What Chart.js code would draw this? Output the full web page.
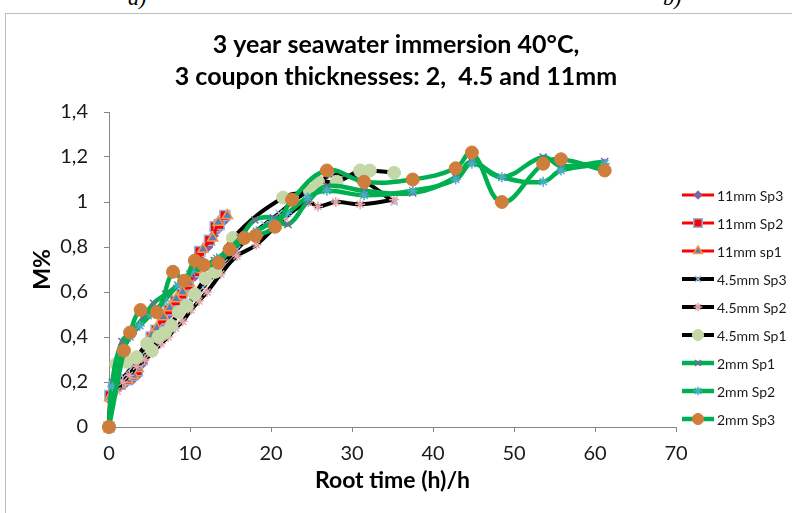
<!DOCTYPE html>
<html>
<head>
<meta charset="utf-8">
<script src="https://cdn.jsdelivr.net/npm/chart.js@4.4.1/dist/chart.umd.min.js"></script>
<style>
  html, body { margin: 0; padding: 0; background: #fff; }
  #wrap { position: relative; width: 792px; height: 513px; overflow: hidden; }
  #frame { position: absolute; left: 5px; top: 13px; width: 820px; height: 540px; border: 1px solid #bdbdbd; }
  .panel { position: absolute; top: -15px; font: italic 22px "Liberation Serif", serif; color: #000; }
  canvas { position: absolute; left: 0; top: 0; }
</style>
</head>
<body>
<div id="wrap">
  <span class="panel" style="left:128px">a)</span>
  <span class="panel" style="left:663px">b)</span>
  <div id="frame"></div>
  <canvas id="chart" width="792" height="513"></canvas>
</div>
<script>
// root time (h)/h and M% per specimen
const x11sp3 = [0, 0.1, 0.6, 1.4, 2.2, 2.9, 3.5, 4.1, 4.7, 5.2, 5.8, 6.6, 7.4, 8.2, 9.0, 9.8, 10.6, 11.3, 12.2, 12.9, 13.5, 14.3];
const y11sp3 = [0, 0.12, 0.16, 0.18, 0.20, 0.21, 0.23, 0.28, 0.33, 0.37, 0.41, 0.46, 0.50, 0.54, 0.58, 0.62, 0.67, 0.74, 0.80, 0.85, 0.88, 0.92];
const x11sp2 = [0, 0.1, 0.6, 1.4, 2.2, 2.9, 3.5, 4.1, 4.7, 5.2, 5.8, 6.6, 7.4, 8.2, 9.0, 9.8, 10.6, 11.2, 12.4, 13.1, 13.6, 14.3];
const y11sp2 = [0, 0.14, 0.18, 0.19, 0.21, 0.23, 0.25, 0.30, 0.36, 0.40, 0.43, 0.48, 0.52, 0.56, 0.59, 0.63, 0.69, 0.78, 0.83, 0.89, 0.90, 0.94];
const x11sp1 = [0, 0.1, 0.7, 1.5, 2.3, 3.0, 3.6, 4.2, 4.8, 5.3, 5.9, 6.7, 7.5, 8.3, 9.1, 9.9, 10.8, 11.6, 12.8, 13.5, 14.6];
const y11sp1 = [0, 0.13, 0.19, 0.19, 0.21, 0.23, 0.26, 0.31, 0.37, 0.41, 0.44, 0.49, 0.53, 0.57, 0.60, 0.64, 0.70, 0.79, 0.84, 0.91, 0.94];

const x45sp3 = [0, 0.3, 1, 1.8, 2.7, 3.6, 4.6, 5.6, 6.6, 7.6, 8.6, 9.6, 10.6, 11.6, 12.8, 14.2, 15.8, 17.5, 19.2, 21, 23, 25, 27.5, 31, 35.2];
const y45sp3 = [0, 0.13, 0.18, 0.22, 0.26, 0.30, 0.34, 0.38, 0.42, 0.46, 0.50, 0.54, 0.58, 0.62, 0.67, 0.73, 0.79, 0.85, 0.90, 0.95, 1.01, 1.06, 1.12, 1.10, 1.00];
const x45sp2 = [0, 0.3, 1, 1.7, 2.5, 3.4, 4.4, 5.4, 6.4, 7.3, 8.2, 9.1, 10.1, 11.1, 12.1, 13.8, 15.8, 18.2, 21.7, 24.6, 25.8, 28, 31, 35.2];
const y45sp2 = [0, 0.12, 0.16, 0.20, 0.23, 0.27, 0.30, 0.33, 0.37, 0.40, 0.44, 0.47, 0.52, 0.56, 0.60, 0.68, 0.76, 0.81, 0.93, 1.00, 0.98, 1.00, 0.99, 1.01];
const x45sp1 = [0, 0.9, 2.2, 3.4, 4.7, 5.3, 6.1, 6.9, 7.7, 8.6, 9.6, 10.6, 11.9, 13.1, 15.3, 21.5, 24.8, 25.8, 28.1, 31, 32.2, 35.2];
const y45sp1 = [0, 0.28, 0.29, 0.31, 0.37, 0.34, 0.40, 0.42, 0.45, 0.51, 0.54, 0.59, 0.66, 0.69, 0.84, 1.02, 1.05, 1.09, 1.09, 1.14, 1.14, 1.13];

const x2sp1 = [0, 0.4, 1.6, 3, 4.3, 5.5, 7, 8.5, 10, 11.5, 13, 14.5, 16.2, 18, 20.3, 22.1, 24.5, 26.9, 31.5, 37.5, 42.8, 44.8, 48.5, 53.6, 55.8, 61.2];
const y2sp1 = [0, 0.20, 0.38, 0.43, 0.49, 0.55, 0.59, 0.63, 0.68, 0.71, 0.74, 0.78, 0.84, 0.92, 0.93, 0.90, 1.00, 1.07, 1.05, 1.04, 1.11, 1.18, 1.11, 1.20, 1.16, 1.18];
const x2sp2 = [0, 0.4, 1.6, 2.6, 3.8, 5.2, 6.8, 8.5, 10.2, 11.8, 13.3, 14.8, 16.5, 18.2, 20.1, 22, 24.5, 26.9, 31.5, 37.5, 42.8, 44.8, 48.5, 53.6, 55.8, 61.2];
const y2sp2 = [0, 0.18, 0.33, 0.40, 0.45, 0.50, 0.56, 0.63, 0.69, 0.71, 0.75, 0.78, 0.83, 0.87, 0.91, 0.95, 1.02, 1.05, 1.03, 1.05, 1.10, 1.17, 1.11, 1.09, 1.14, 1.17];
const x2sp3 = [0, 1.85, 2.6, 3.9, 5.9, 7.9, 9.3, 10.6, 11.7, 13.5, 14.9, 16.7, 18.1, 20.5, 22.6, 26.9, 31.5, 37.5, 42.8, 44.8, 48.5, 53.6, 55.8, 61.2];
const y2sp3 = [0, 0.34, 0.42, 0.52, 0.51, 0.69, 0.65, 0.74, 0.72, 0.73, 0.79, 0.84, 0.85, 0.89, 1.01, 1.14, 1.09, 1.10, 1.15, 1.22, 1.00, 1.17, 1.19, 1.14];

const seriesNames = ['11mm Sp3', '11mm Sp2', '11mm sp1', '4.5mm Sp3', '4.5mm Sp2', '4.5mm Sp1', '2mm Sp1', '2mm Sp2', '2mm Sp3'];
const titleLines = ['3 year seawater immersion 40°C,', '3 coupon thicknesses: 2,  4.5 and 11mm'];

const RED = '#ff0000', BLACK = '#000000', GREEN = '#00b050';

function series(i, xs, ys, line, lw, m) {
	return {
		label: seriesNames[i],
		data: xs.map((x, k) => ({ x: x, y: ys[k] })),
		borderColor: line,
		borderWidth: lw,
		pointStyle: m.shape,
		pointRadius: m.r,
		pointBackgroundColor: m.fill,
		pointBorderColor: m.stroke,
		pointBorderWidth: m.bw,
		tension: 0.4,
		fill: false,
		clip: false,
		order: 8 - i
	};
}

const datasets = [
	series(0, x11sp3, y11sp3, RED, 3, { shape: 'rectRot', r: 5, fill: '#8064a2', stroke: '#8064a2', bw: 1 }),
	series(1, x11sp2, y11sp2, RED, 3, { shape: 'rect', r: 7, fill: '#ff0000', stroke: '#8eb4e3', bw: 1.5 }),
	series(2, x11sp1, y11sp1, RED, 3, { shape: 'triangle', r: 6, fill: '#4f81bd', stroke: '#f79646', bw: 1.5 }),
	series(3, x45sp3, y45sp3, BLACK, 4, { shape: 'crossRot', r: 5, fill: '#9bbbdf', stroke: '#9bbbdf', bw: 1.5 }),
	series(4, x45sp2, y45sp2, BLACK, 4, { shape: 'star', r: 5, fill: '#e3a4a9', stroke: '#e3a4a9', bw: 1.5 }),
	series(5, x45sp1, y45sp1, BLACK, 4, { shape: 'circle', r: 6.5, fill: '#c4d7a7', stroke: '#c4d7a7', bw: 1 }),
	series(6, x2sp1, y2sp1, GREEN, 4.5, { shape: 'crossRot', r: 5, fill: '#8064a2', stroke: '#8064a2', bw: 1.5 }),
	series(7, x2sp2, y2sp2, GREEN, 4.5, { shape: 'star', r: 5, fill: '#4bacc6', stroke: '#4bacc6', bw: 1.5 }),
	series(8, x2sp3, y2sp3, GREEN, 4.5, { shape: 'circle', r: 6.5, fill: '#cf7d3b', stroke: '#cf7d3b', bw: 1 })
];

// right hand legend drawn like the excel one: short line with marker
const legendBox = {
	position: 'right',
	weight: 1000,
	fullSize: false,
	options: {},
	width: 0, height: 0, left: 0, top: 0, right: 0, bottom: 0,
	isHorizontal() { return false; },
	update(maxWidth, maxHeight) {
		this.width = 116;
		this.height = maxHeight;
	},
	draw() {
		const chart = this.chart;
		const ctx = chart.ctx;
		const x0 = this.left + 6;
		ctx.save();
		chart.data.datasets.forEach((d, i) => {
			const y = chart.chartArea.top + 83 + i * 28;
			ctx.strokeStyle = d.borderColor;
			ctx.lineWidth = d.borderWidth;
			ctx.beginPath();
			ctx.moveTo(x0, y);
			ctx.lineTo(x0 + 32, y);
			ctx.stroke();
			ctx.fillStyle = d.pointBackgroundColor;
			ctx.strokeStyle = d.pointBorderColor;
			ctx.lineWidth = d.pointBorderWidth;
			Chart.helpers.drawPoint(ctx, { pointStyle: d.pointStyle, radius: d.pointRadius * 0.85, borderWidth: d.pointBorderWidth, rotation: 0 }, x0 + 16, y);
			ctx.fillStyle = '#1a1a1a';
			ctx.font = '14px Lato';
			ctx.textAlign = 'left';
			ctx.textBaseline = 'middle';
			ctx.fillText(d.label, x0 + 35, y + 1);
		});
		ctx.restore();
	}
};

const sideLegend = {
	id: 'sideLegend',
	beforeInit(chart) {
		legendBox.chart = chart;
		Chart.layouts.addBox(chart, legendBox);
	}
};

const axisGrid = { drawOnChartArea: false, drawTicks: true, tickLength: 5, color: '#868686' };

new Chart(document.querySelector('#chart'), {
	type: 'line',
	data: { datasets: datasets },
	options: {
		responsive: false,
		animation: false,
		devicePixelRatio: 1,
		layout: { padding: 0 },
		plugins: {
			legend: { display: false },
			tooltip: { enabled: false },
			title: {
				display: true,
				text: titleLines,
				color: '#000',
				font: { family: 'Lato', size: 25, weight: 'bold', lineHeight: 1.28 },
				padding: { top: 29, bottom: 19 }
			}
		},
		scales: {
			x: {
				type: 'linear',
				min: 0,
				max: 70,
				ticks: { stepSize: 10, color: '#1a1a1a', padding: 10, font: { family: 'Lato', size: 20 } },
				grid: axisGrid,
				border: { color: '#868686' },
				title: { display: true, text: 'Root time (h)/h', color: '#000', font: { family: 'Lato', size: 23, weight: 'bold' }, padding: { top: 0, bottom: 19 } },
				afterFit: s => { s.height = 86; }
			},
			y: {
				min: 0,
				max: 1.4,
				ticks: {
					stepSize: 0.2,
					color: '#1a1a1a',
					padding: 16,
					font: { family: 'Lato', size: 20 },
					callback: v => String(Math.round(v * 10) / 10).replace('.', ',')
				},
				grid: axisGrid,
				border: { color: '#868686' },
				title: { display: true, text: 'M%', color: '#000', font: { family: 'Lato', size: 23, weight: 'bold' }, padding: { top: 29, bottom: 0 } },
				afterFit: s => { s.width = 109; }
			}
		}
	},
	plugins: [sideLegend]
});
</script>
</body>
</html>
